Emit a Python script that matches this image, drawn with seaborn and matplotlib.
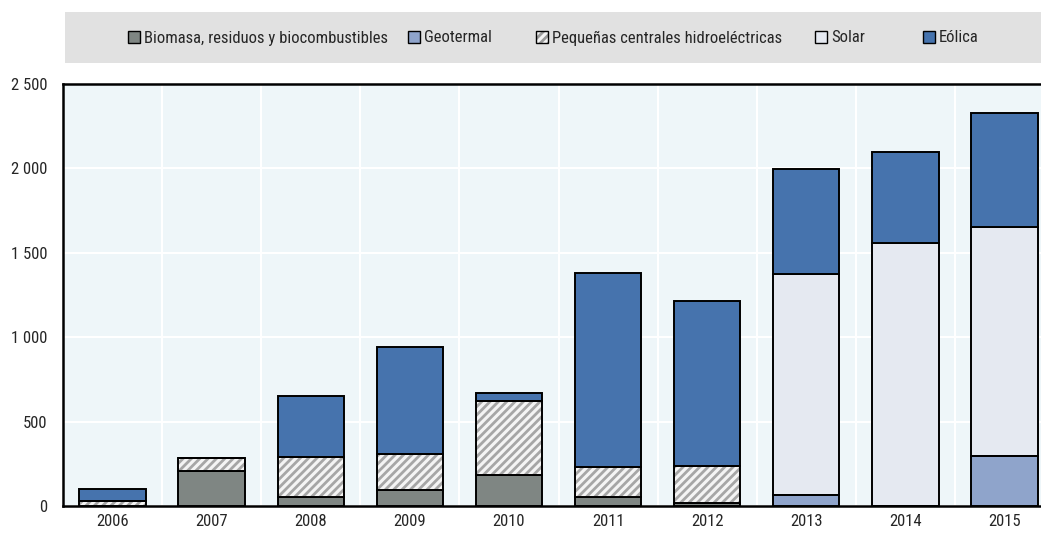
import matplotlib
matplotlib.use("Agg")
import matplotlib.pyplot as plt
from matplotlib.patches import Patch, Rectangle
from matplotlib.ticker import FixedLocator, FuncFormatter
import numpy as np
import pandas as pd
import seaborn as sns

years = ["2006", "2007", "2008", "2009", "2010", "2011", "2012", "2013", "2014", "2015"]
biomasa = [0, 208, 52, 95, 184, 52, 15, 0, 0, 0]
geotermal = [0, 0, 0, 0, 0, 0, 0, 65, 0, 299]
hidro = [30, 75, 241, 214, 439, 180, 222, 0, 0, 0]
solar = [0, 0, 0, 0, 0, 0, 0, 1311, 1560, 1354]
eolica = [69, 0, 356, 631, 46, 1146, 976, 619, 540, 673]

labels = ["Biomasa, residuos y biocombustibles", "Geotermal",
          "Pequeñas centrales hidroeléctricas", "Solar", "Eólica"]
colors = ["#7f8683", "#8fa4cb", "#f4f4f4", "#e5e9f1", "#4673ad"]
legend_x = [128, 408, 536, 815, 923]

sns.set_style("white")
plt.rcParams["font.family"] = ["Roboto Condensed", "Roboto", "DejaVu Sans"]
plt.rcParams["hatch.linewidth"] = 2.0

df = pd.DataFrame({"year": years, "bio": biomasa, "geo": geotermal,
                   "hid": hidro, "sol": solar, "eol": eolica})

fig = plt.figure(figsize=(10.41, 5.37), dpi=100)
ax = fig.add_axes([63 / 1041, 31 / 537, 991 / 1041, 422 / 537])
ax.set_facecolor("#eef6f9")

bottom = np.zeros(len(years))
for col, c in zip(["bio", "geo", "hid", "sol", "eol"], colors):
    if col == "hid":
        sns.barplot(data=df, x="year", y=col, bottom=bottom, color=c, saturation=1,
                    width=0.67, facecolor=c, edgecolor="#a6a6a6", hatch="////",
                    linewidth=0, ax=ax, zorder=3)
        sns.barplot(data=df, x="year", y=col, bottom=bottom, color=c, saturation=1,
                    width=0.67, facecolor="none", edgecolor="black", linewidth=1.4,
                    ax=ax, zorder=4)
    else:
        sns.barplot(data=df, x="year", y=col, bottom=bottom, color=c, saturation=1,
                    width=0.67, facecolor=c, edgecolor="black", linewidth=1.4,
                    ax=ax, zorder=3)
    bottom = bottom + df[col].values

ax.set_xlim(-0.5, 9.5)
ax.set_ylim(0, 2500)
ax.set_xlabel("")
ax.set_ylabel("")

ax.yaxis.set_major_locator(FixedLocator([0, 500, 1000, 1500, 2000, 2500]))
ax.yaxis.set_major_formatter(FuncFormatter(lambda v, p: f"{int(v):,}".replace(",", " ")))
ax.xaxis.set_minor_locator(FixedLocator(np.arange(0.5, 9.5, 1)))
ax.tick_params(axis="x", which="major", length=0, labelsize=12, pad=6)
ax.tick_params(axis="x", which="minor", direction="in", length=5, width=1.3, color="black")
ax.tick_params(axis="y", which="major", direction="in", length=5, width=1.3,
               color="black", labelsize=12, pad=11.5)

ax.grid(axis="y", which="major", color="white", linewidth=1.5, zorder=0)
ax.grid(axis="x", which="minor", color="white", linewidth=1.5, zorder=0)
ax.set_axisbelow(True)

for side in ["top", "left", "bottom"]:
    ax.spines[side].set_color("black")
    ax.spines[side].set_linewidth(1.8)
ax.spines["right"].set_visible(False)

# legend band
fig.patches.append(Rectangle((65 / 1041, (537 - 63) / 537), 1 - 65 / 1041, 51 / 537,
                             transform=fig.transFigure, facecolor="#e1e1e1",
                             edgecolor="none", zorder=0))
for lab, c, lx in zip(labels, colors, legend_x):
    if lab.startswith("Pequeñas"):
        h = (Patch(facecolor=c, edgecolor="#9a9a9a", hatch="////", linewidth=0),
             Patch(facecolor="none", edgecolor="black", linewidth=1.0))
    else:
        h = Patch(facecolor=c, edgecolor="black", linewidth=1.0)
    leg = fig.legend([h], [lab], loc="center left",
                     bbox_to_anchor=(lx / 1041, (537 - 38) / 537),
                     frameon=False, fontsize=12, handlelength=0.7, handleheight=0.7,
                     handletextpad=0.25, borderaxespad=0, borderpad=0)

fig.savefig("out.png", dpi=100)
